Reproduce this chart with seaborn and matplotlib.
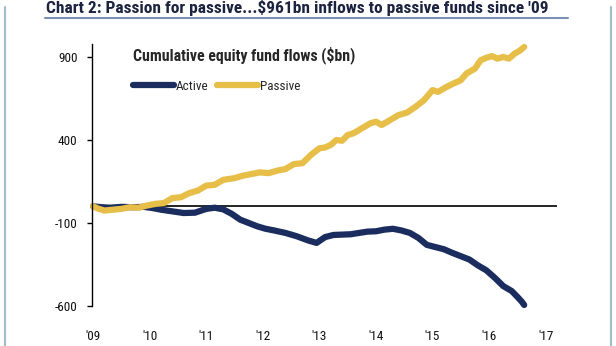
import matplotlib
matplotlib.use("Agg")
import matplotlib.pyplot as plt
from matplotlib.lines import Line2D
import seaborn as sns
import pandas as pd

# ---- data ----
passive_t = [2009.00, 2009.10, 2009.20, 2009.35, 2009.50, 2009.65, 2009.80, 2009.95,
             2010.10, 2010.25, 2010.40, 2010.55, 2010.70, 2010.85, 2011.00, 2011.15,
             2011.30, 2011.50, 2011.65, 2011.80, 2011.95, 2012.10, 2012.25, 2012.40,
             2012.55, 2012.70, 2012.85, 2013.00, 2013.10, 2013.20, 2013.30, 2013.40,
             2013.50, 2013.60, 2013.75, 2013.90, 2014.00, 2014.10, 2014.25, 2014.40,
             2014.55, 2014.70, 2014.85, 2015.00, 2015.10, 2015.25, 2015.40, 2015.50,
             2015.60, 2015.75, 2015.85, 2015.95, 2016.05, 2016.15, 2016.25, 2016.35,
             2016.45, 2016.55, 2016.62]
passive_v = [0, -15, -25, -20, -15, -5, -8, 5,
             15, 20, 50, 55, 80, 95, 125, 130,
             160, 170, 185, 195, 205, 200, 215, 225,
             255, 260, 310, 350, 355, 370, 400, 395,
             430, 440, 470, 500, 510, 490, 520, 550,
             565, 600, 640, 700, 690, 720, 745, 760,
             800, 830, 880, 895, 905, 890, 900, 890,
             920, 940, 960]

active_t = [2009.00, 2009.15, 2009.30, 2009.50, 2009.70, 2009.90, 2010.05, 2010.20,
            2010.40, 2010.60, 2010.80, 2011.00, 2011.15, 2011.30, 2011.45, 2011.60,
            2011.75, 2011.90, 2012.05, 2012.20, 2012.40, 2012.60, 2012.80, 2012.95,
            2013.10, 2013.25, 2013.40, 2013.55, 2013.70, 2013.85, 2014.00, 2014.15,
            2014.30, 2014.45, 2014.60, 2014.75, 2014.90, 2015.05, 2015.20, 2015.35,
            2015.50, 2015.65, 2015.80, 2015.95, 2016.10, 2016.25, 2016.40, 2016.50,
            2016.58, 2016.62]
active_v = [0, -5, -8, -3, -5, -3, -10, -20,
            -30, -40, -38, -15, -8, -18, -45, -80,
            -100, -120, -135, -145, -160, -180, -205, -220,
            -185, -172, -170, -168, -160, -152, -150, -140,
            -135, -145, -160, -190, -232, -245, -258, -280,
            -300, -320, -355, -385, -430, -480, -510, -545,
            -575, -594]

series_names = ["Active", "Passive"]
series_colors = ["#1a2d5e", "#e6be48"]
year_ticks = [2009, 2010, 2011, 2012, 2013, 2014, 2015, 2016, 2017]
year_labels = ["'09", "'10", "'11", "'12", "'13", "'14", "'15", "'16", "'17"]
y_ticks = [900, 400, -100, -600]

title = "Chart 2: Passion for passive...$961bn inflows to passive funds since '09"
legend_title = "Cumulative equity fund flows ($bn)"

df = pd.concat([
    pd.DataFrame({"t": active_t, "v": active_v, "s": series_names[0]}),
    pd.DataFrame({"t": passive_t, "v": passive_v, "s": series_names[1]}),
])

sns.set_theme(style="white")
FONT = ["Roboto Condensed", "Liberation Sans", "DejaVu Sans"]
plt.rcParams["font.family"] = FONT
plt.rcParams["axes.unicode_minus"] = False

W, H = 616, 346
fig = plt.figure(figsize=(W / 100, H / 100), dpi=100)
fig.patch.set_facecolor("white")

left_px, right_px, top_px, bot_px = 92, 557, 44.5, 306
ax = fig.add_axes([left_px / W, 1 - bot_px / H, (right_px - left_px) / W, (bot_px - top_px) / H])

sns.lineplot(data=df, x="t", y="v", hue="s", palette=dict(zip(series_names, series_colors)),
             linewidth=4.5, ax=ax, legend=False, sort=False, estimator=None)
for ln in ax.lines:
    ln.set_clip_on(False)
    ln.set_solid_capstyle("round")
    ln.set_solid_joinstyle("round")

ax.axhline(0, color="black", lw=1.2, zorder=1)

ax.set_xlim(2008.98, 2017.2)
ax.set_ylim(-600, 975)
ax.set_xticks(year_ticks)
ax.set_xticklabels(year_labels)
ax.set_yticks(y_ticks)
ax.set_xlabel("")
ax.set_ylabel("")
for s in ["top", "right", "bottom"]:
    ax.spines[s].set_visible(False)
ax.spines["left"].set_color("black")
ax.spines["left"].set_linewidth(1.0)
ax.tick_params(axis="y", which="both", left=True, length=3.5, width=1.0, color="black",
               pad=7, labelsize=9.5, labelcolor="#111111")
ax.tick_params(axis="x", bottom=False, pad=11, labelsize=9.5, labelcolor="#111111")
ax.set_facecolor("white")

handles = [Line2D([], [], color=c, lw=4.5, solid_capstyle="round") for c in series_colors]
leg = ax.legend(handles, series_names, ncol=2, loc="upper left",
                bbox_to_anchor=((124 - left_px) / (right_px - left_px), 1 - (37 - top_px) / (bot_px - top_px)),
                frameon=False, title=legend_title, alignment="left",
                handlelength=3.1, handletextpad=0.15, columnspacing=0.6,
                fontsize=9.5, title_fontproperties={"weight": "bold", "size": 11.4, "family": FONT},
                borderpad=0.2, labelspacing=1.2)

fig.text(46 / W, 1 - 12.5 / H, title, fontsize=12.5, fontweight="bold", color="#1b2340",
         va="baseline", ha="left")
fig.add_artist(Line2D([45 / W, 568 / W], [1 - 17.5 / H, 1 - 17.5 / H], color="#7d8fb0", lw=1.5))
fig.add_artist(Line2D([4.5 / W, 4.5 / W], [0, 1 - 7 / H], color="#9fbccb", lw=1.5))
fig.add_artist(Line2D([610.5 / W, 610.5 / W], [0, 1 - 7 / H], color="#9fbccb", lw=1.5))

fig.savefig("out.png", dpi=100, facecolor="white")
